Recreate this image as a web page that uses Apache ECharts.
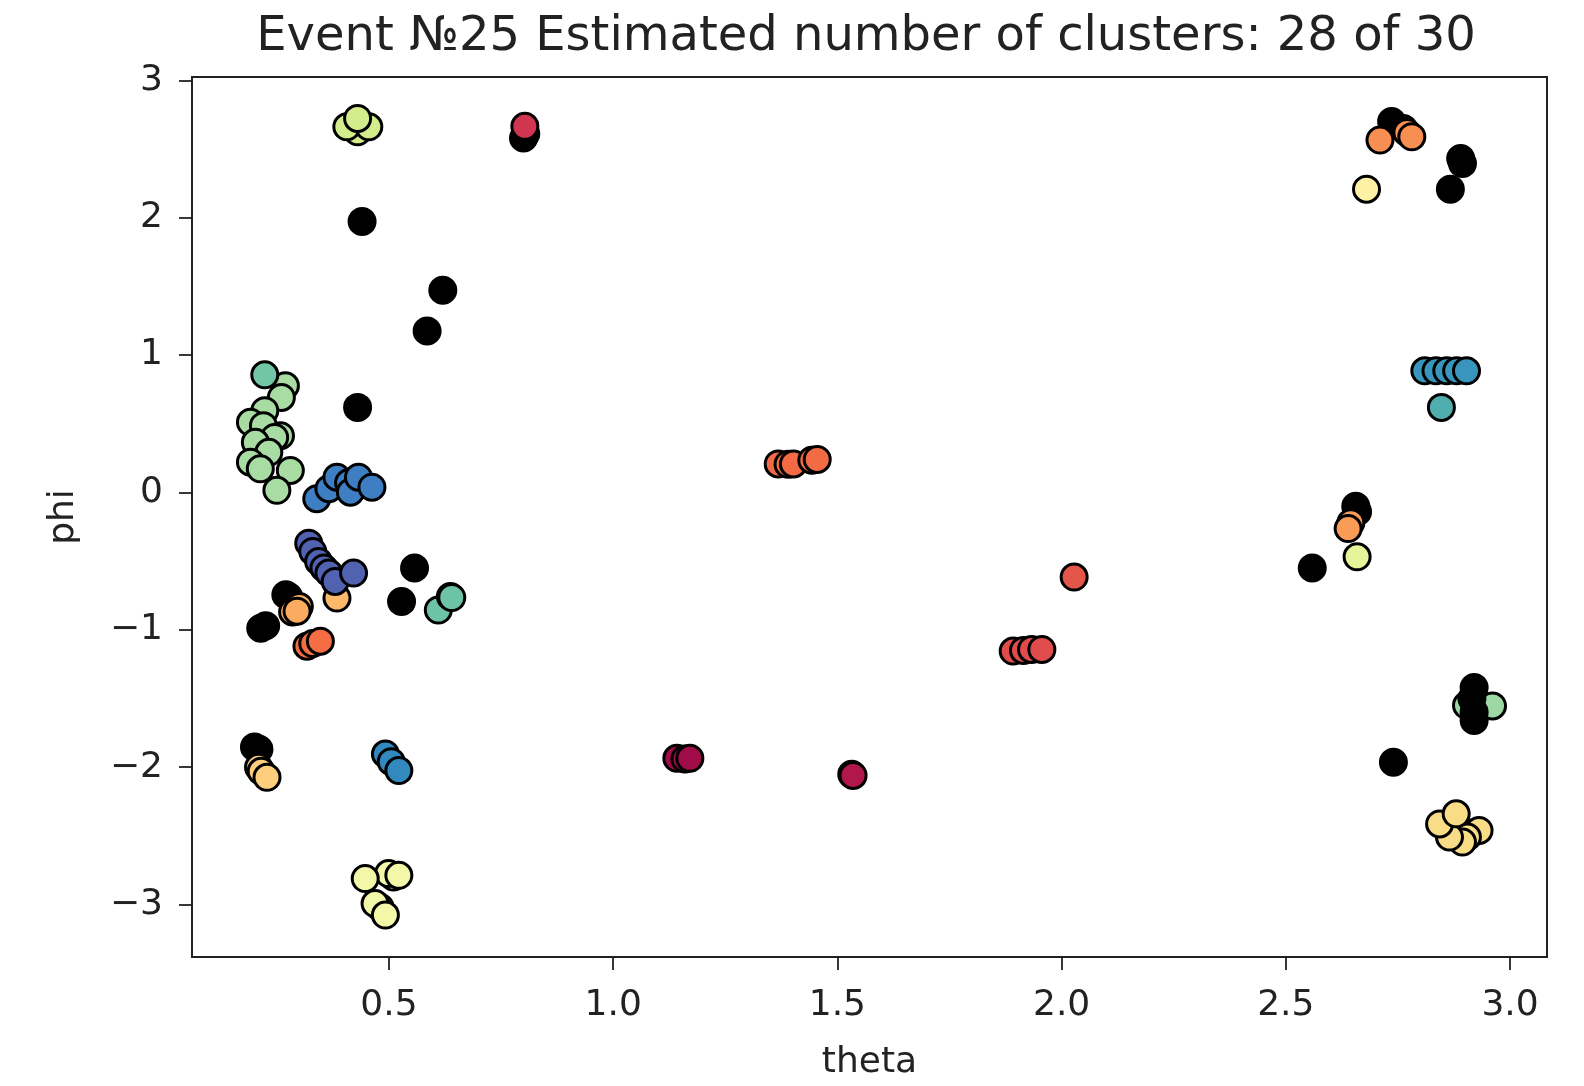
<!DOCTYPE html>
<html>
<head>
<meta charset="utf-8">
<title>Event 25 clusters</title>
<script src="https://cdn.jsdelivr.net/npm/echarts@6/dist/echarts.min.js"></script>
<style>
  html, body { margin: 0; padding: 0; background: #fff; }
  #chart { width: 1584px; height: 1086px; }
</style>
</head>
<body>
<div id="chart"></div>
<script>
// Tick positions
const thetaTicks = [0.5, 1.0, 1.5, 2.0, 2.5, 3.0];
const phiTicks = [-3, -2, -1, 0, 1, 2, 3];

// Unclustered hits (noise), drawn beneath the clusters
const noise = [
  [0.440, 1.972], [0.620, 1.472], [0.585, 1.175], [0.430, 0.619],
  [0.557, -0.551], [0.528, -0.794], [0.270, -0.745], [0.276, -0.757],
  [0.214, -0.989], [0.225, -0.970], [0.200, -1.853], [0.210, -1.870],
  [0.800, 2.580], [0.805, 2.610],
  [2.736, 2.700], [2.762, 2.650],
  [2.894, 2.395], [2.890, 2.430], [2.867, 2.207],
  [2.656, -0.100], [2.660, -0.140], [2.559, -0.551], [2.740, -1.965]
];
// Noise hits lying over the green cluster near theta 2.9
const noiseTop = [[2.920, -1.420], [2.915, -1.500], [2.920, -1.600], [2.920, -1.660]];

// Clusters
const c01 = [[1.142, -1.936], [1.160, -1.940], [1.171, -1.936]];
const c02 = [[1.532, -2.052], [1.535, -2.060]];
const c03 = [[0.803, 2.665]];
const c04 = [[1.892, -1.155], [1.915, -1.150], [1.933, -1.143], [1.956, -1.143]];
const c05 = [[2.028, -0.616]];
const c06 = [[1.368, 0.207], [1.390, 0.205], [1.402, 0.207], [1.443, 0.235], [1.455, 0.240]];
const c07 = [[0.317, -1.119], [0.330, -1.100], [0.347, -1.083]];
const c08 = [[2.770, 2.620], [2.710, 2.565], [2.781, 2.589]];
const c09 = [[2.645, -0.220], [2.639, -0.263]];
const c10 = [[0.285, -0.870], [0.300, -0.830], [0.295, -0.865]];
const c11 = [[0.384, -0.769]];
const c12 = [[0.209, -2.001], [0.215, -2.030], [0.228, -2.074]];
const c13 = [[2.915, -2.480], [2.931, -2.461], [2.905, -2.509], [2.894, -2.545],
             [2.865, -2.509], [2.843, -2.413], [2.880, -2.340]];
const c14 = [[2.680, 2.207]];
const c15 = [[0.510, -2.800], [0.499, -2.775], [0.522, -2.787], [0.447, -2.811],
             [0.480, -3.020], [0.469, -2.993], [0.492, -3.077]];
const c16 = [[2.659, -0.469]];
const c17 = [[0.430, 2.625], [0.406, 2.661], [0.455, 2.661], [0.430, 2.722]];
const c18 = [[0.269, 0.776], [0.260, 0.691], [0.223, 0.595], [0.191, 0.510], [0.220, 0.486],
             [0.258, 0.413], [0.245, 0.400], [0.202, 0.365], [0.232, 0.292], [0.191, 0.220],
             [0.213, 0.172], [0.280, 0.160], [0.250, 0.015]];
const c19 = [[2.903, -1.550], [2.935, -1.550], [2.961, -1.554]];
const c20 = [[0.223, 0.856]];
const c21 = [[0.610, -0.856], [0.637, -0.757], [0.640, -0.765]];
const c22 = [[2.847, 0.619]];
const c23 = [[2.810, 0.885], [2.835, 0.885], [2.859, 0.885], [2.881, 0.885], [2.903, 0.885]];
const c24 = [[0.492, -1.905], [0.505, -1.960], [0.522, -2.025]];
const c25 = [[0.339, -0.046], [0.366, 0.027], [0.384, 0.111], [0.410, 0.070], [0.440, 0.060],
             [0.414, 0.002], [0.432, 0.111], [0.462, 0.038]];
const c26 = [[0.321, -0.370], [0.330, -0.430], [0.343, -0.503], [0.355, -0.550],
             [0.366, -0.587], [0.380, -0.648], [0.421, -0.587]];

const clusters = [c01, c02, c03, c04, c05, c06, c07, c08, c09, c10, c11, c12, c13,
                  c14, c15, c16, c17, c18, c19, c20, c21, c22, c23, c24, c25, c26];
// Spectral colour for each cluster, in the same order
const clusterColors = ['#a00c47', '#b0174b', '#d0364f', '#df4c4b', '#e4554a', '#f26b44',
  '#f46d43', '#f78e52', '#f99c58', '#fcac60', '#fdb96a', '#fdcf7d', '#f8dc86',
  '#fef0a5', '#f3f7a8', '#e6f59a', '#d4ed8c', '#a8dca3', '#9cd7a4', '#72c6a5',
  '#6cc3a5', '#50aeae', '#3a95bc', '#3189be', '#3e7ec2', '#5162b0'];

const FONT = 'DejaVu Sans, Liberation Sans, sans-serif';
const MARK = 26;
const EDGE = 3;

function scatter(name, data, color) {
  return {
    name: name,
    type: 'scatter',
    data: data,
    symbol: 'circle',
    symbolSize: MARK,
    itemStyle: { color: color, borderColor: '#000', borderWidth: EDGE, opacity: 1 },
    emphasis: { disabled: true }
  };
}

const series = [scatter('noise', noise, '#000')];
clusters.forEach((c, i) => series.push(scatter('cluster ' + (i + 1), c, clusterColors[i])));
series.push(scatter('noise (top)', noiseTop, '#000'));

const fmtMinus = v => (v < 0 ? '\u2212' + Math.abs(v) : String(v));

const chart = echarts.init(document.getElementById('chart'), null, { renderer: 'canvas' });
chart.setOption({
  animation: false,
  backgroundColor: '#fff',
  title: {
    text: 'Event \u211625 Estimated number of clusters: 28 of 30',
    left: 866,
    top: 14,
    padding: 0,
    textAlign: 'center',
    textStyle: { fontFamily: FONT, fontSize: 48, fontWeight: 'normal', color: '#222' }
  },
  grid: {
    left: 192, right: 37, top: 77, bottom: 126,
    show: true, borderColor: '#222', borderWidth: 2, backgroundColor: 'transparent'
  },
  xAxis: {
    type: 'value',
    min: 0.0607, max: 3.0825,
    name: 'theta',
    nameLocation: 'middle',
    nameGap: 88,
    nameTextStyle: { fontFamily: FONT, fontSize: 36, color: '#222' },
    axisLine: { show: true, onZero: false, lineStyle: { color: '#222', width: 2 } },
    axisTick: { show: true, inside: false, length: 13, customValues: thetaTicks,
                lineStyle: { color: '#222', width: 1.8 } },
    axisLabel: { customValues: thetaTicks, margin: 31, formatter: v => v.toFixed(1),
                 fontFamily: FONT, fontSize: 36, color: '#222' },
    splitLine: { show: false }
  },
  yAxis: {
    type: 'value',
    min: -3.382, max: 3.024,
    name: 'phi',
    nameLocation: 'middle',
    nameRotate: 90,
    nameGap: 110,
    nameTextStyle: { fontFamily: FONT, fontSize: 36, color: '#222' },
    axisLine: { show: true, onZero: false, lineStyle: { color: '#222', width: 2 } },
    axisTick: { show: true, inside: false, length: 13, customValues: phiTicks,
                lineStyle: { color: '#222', width: 1.8 } },
    axisLabel: { customValues: phiTicks, margin: 29, formatter: fmtMinus,
                 fontFamily: FONT, fontSize: 36, color: '#222' },
    splitLine: { show: false }
  },
  series: series
});
</script>
</body>
</html>
